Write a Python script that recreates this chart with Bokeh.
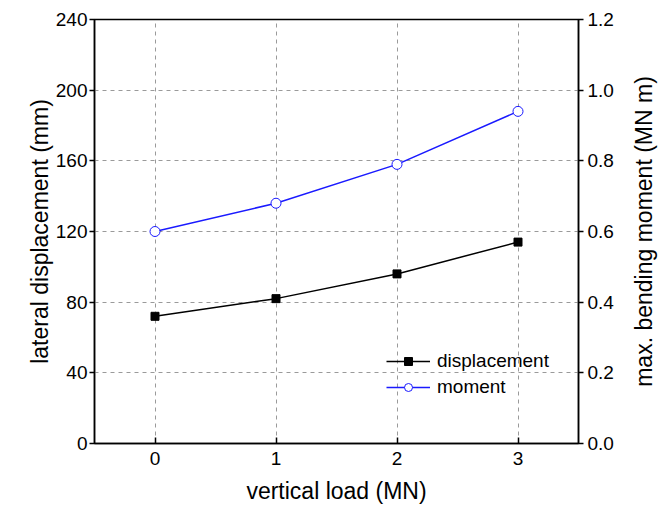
import math
from bokeh.plotting import figure
from bokeh.models import Range1d, LinearAxis, FixedTicker, PrintfTickFormatter, Legend, LegendItem, Label
from bokeh.embed import file_html
from bokeh.resources import INLINE

# data
load = [0, 1, 2, 3]
displacement = [72, 82, 96, 114]
moment = [0.60, 0.68, 0.79, 0.94]
x_ticks = [0, 1, 2, 3]
left_ticks = [0, 40, 80, 120, 160, 200, 240]
right_ticks = [0.0, 0.2, 0.4, 0.6, 0.8, 1.0, 1.2]
right_title = "max. bending moment (MN m)"

FONT = "Liberation Sans"
TICK_FS = "19px"
TITLE_FS = "23px"

p = figure(width=662, height=506, output_backend="svg", toolbar_location=None,
           x_range=Range1d(-0.5, 3.5), y_range=Range1d(0, 240),
           min_border_left=94, min_border_right=84, min_border_top=19, min_border_bottom=62,
           x_axis_label="vertical load (MN)", y_axis_label="lateral displacement (mm)")
p.extra_y_ranges = {"m": Range1d(0, 1.2)}

p.outline_line_color = "black"
p.outline_line_width = 1.5
p.outline_line_alpha = 1.0

for ax in [p.xaxis[0], p.yaxis[0]]:
    ax.axis_line_color = "black"
    ax.axis_line_width = 1.5
    ax.major_tick_line_color = "black"
    ax.major_tick_line_width = 1.5
    ax.minor_tick_line_color = None
    ax.major_label_text_font = FONT
    ax.major_label_text_font_size = TICK_FS
    ax.major_label_text_color = "black"
    ax.axis_label_text_font = FONT
    ax.axis_label_text_font_size = TITLE_FS
    ax.axis_label_text_font_style = "normal"
    ax.axis_label_text_color = "black"

p.xaxis.ticker = FixedTicker(ticks=x_ticks)
p.xaxis.major_tick_in = 6
p.xaxis.major_tick_out = 0
p.xaxis.major_label_standoff = 8
p.xaxis.axis_label_standoff = 10

p.yaxis.ticker = FixedTicker(ticks=left_ticks)
p.yaxis.major_tick_in = 0
p.yaxis.major_tick_out = 5
p.yaxis.major_label_standoff = 2
p.yaxis.axis_label_standoff = 0

ra = LinearAxis(y_range_name="m")
ra.ticker = FixedTicker(ticks=right_ticks)
ra.formatter = PrintfTickFormatter(format="%.1f")
ra.axis_line_color = "black"
ra.axis_line_width = 1.5
ra.major_tick_line_color = "black"
ra.major_tick_line_width = 1.5
ra.minor_tick_line_color = None
ra.major_tick_in = 0
ra.major_tick_out = 5
ra.major_label_standoff = 4
ra.major_label_text_font = FONT
ra.major_label_text_font_size = TICK_FS
ra.major_label_text_color = "black"
p.add_layout(ra, "right")

rlabel = Label(x=27, y=212, x_units="screen", y_units="screen", text=right_title,
               angle=math.pi / 2, text_align="center", text_baseline="middle",
               text_font=FONT, text_font_size=TITLE_FS, text_color="black")
p.add_layout(rlabel, "right")

for g in [p.xgrid[0], p.ygrid[0]]:
    g.grid_line_color = "#9a9a9a"
    g.grid_line_dash = "4 4"
    g.grid_line_width = 1
p.xgrid.ticker = FixedTicker(ticks=x_ticks)
p.ygrid.ticker = FixedTicker(ticks=left_ticks)

l1 = p.line(load, displacement, line_color="black", line_width=1.5)
m1 = p.scatter(load, displacement, marker="square", size=8, fill_color="black", line_color="black")
l2 = p.line(load, moment, line_color="#1a1aff", line_width=1.5, y_range_name="m")
m2 = p.scatter(load, moment, marker="circle", size=10, fill_color="white", line_color="#1a1aff",
               line_width=1, y_range_name="m")

legend = Legend(items=[LegendItem(label="displacement", renderers=[l1, m1]),
                       LegendItem(label="moment", renderers=[l2, m2])],
                location=(292, 45))
legend.background_fill_alpha = 0
legend.border_line_color = None
legend.padding = 0
legend.margin = 0
legend.spacing = 4
legend.glyph_width = 44
legend.glyph_height = 20
legend.label_height = 20
legend.label_standoff = 7
legend.label_text_font = FONT
legend.label_text_font_size = TICK_FS
legend.label_text_color = "black"
p.add_layout(legend, "center")

open("out.html", "w").write(file_html(p, INLINE))
